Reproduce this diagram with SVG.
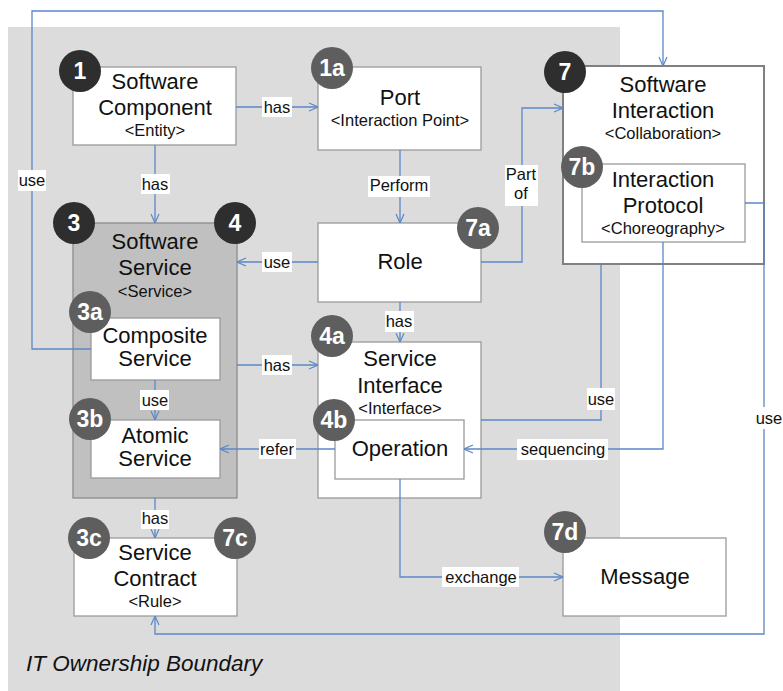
<svg xmlns="http://www.w3.org/2000/svg" width="783" height="691" viewBox="0 0 783 691">
<defs>
<style>
.bg{fill:#dcdcdc}
.box{fill:#fff;stroke:#9a9a9a;stroke-width:1.3}
.main{font-family:"Liberation Sans",Arial,sans-serif;font-size:22px;fill:#111;text-anchor:middle}
.sub{font-family:"Liberation Sans",Arial,sans-serif;font-size:16.5px;fill:#111;text-anchor:middle}
.bd{fill:#2e2e2e}
.bl{fill:#5e5e5e}
.bt{font-family:"Liberation Sans",Arial,sans-serif;font-size:23px;font-weight:bold;fill:#fff;text-anchor:middle}
.c{fill:none;stroke:#5b87c8;stroke-width:1.3}
.lb{fill:#fff}
.lt{font-family:"Liberation Sans",Arial,sans-serif;font-size:16.5px;fill:#111;text-anchor:middle}
</style>
<marker id="ah" viewBox="0 0 10 10" refX="10" refY="5" markerWidth="10" markerHeight="10" markerUnits="userSpaceOnUse" orient="auto">
<path d="M1,1 L10,5 L1,9" fill="none" stroke="#5b87c8" stroke-width="1.2"/>
</marker>
</defs>
<rect class="bg" x="8" y="27" width="612" height="664"/>
<text x="26" y="671" font-family="'Liberation Sans',Arial,sans-serif" font-size="22.5" font-style="italic" fill="#111">IT Ownership Boundary</text>

<g id="software-component">
<rect class="box" x="73" y="67" width="163" height="78"/>
<text class="main" x="155" y="89">Software</text>
<text class="main" x="155" y="115">Component</text>
<text class="sub" x="155" y="136">&lt;Entity&gt;</text>
<circle class="bd" cx="80" cy="71" r="21"/><text class="bt" x="80" y="79">1</text>
</g>
<g id="port">
<rect class="box" x="318" y="67" width="163" height="83"/>
<text class="main" x="400" y="105">Port</text>
<text class="sub" x="400" y="126">&lt;Interaction Point&gt;</text>
<circle class="bl" cx="332" cy="68" r="21"/><text class="bt" x="332" y="76">1a</text>
</g>
<g id="role">
<rect class="box" x="318" y="223" width="163" height="79"/>
<text class="main" x="400" y="269">Role</text>
<circle class="bl" cx="478" cy="228" r="21"/><text class="bt" x="478" y="236">7a</text>
</g>
<g id="software-interaction">
<rect x="563" y="66" width="201" height="198" fill="#fff" stroke="#808080" stroke-width="2"/>
<text class="main" x="663" y="92">Software</text>
<text class="main" x="663" y="118">Interaction</text>
<text class="sub" x="663" y="139">&lt;Collaboration&gt;</text>
<circle class="bd" cx="565" cy="72" r="21"/><text class="bt" x="565" y="80">7</text>
</g>
<g id="interaction-protocol">
<rect class="box" x="582" y="164" width="163" height="78"/>
<text class="main" x="663" y="187">Interaction</text>
<text class="main" x="663" y="213">Protocol</text>
<text class="sub" x="663" y="234">&lt;Choreography&gt;</text>
<circle class="bl" cx="582" cy="167" r="21"/><text class="bt" x="582" y="175">7b</text>
</g>
<g id="software-service">
<rect x="73" y="223" width="164" height="275" fill="#c0c0c0" stroke="#8c8c8c" stroke-width="1.3"/>
<text class="main" x="155" y="249">Software</text>
<text class="main" x="155" y="275">Service</text>
<text class="sub" x="155" y="297">&lt;Service&gt;</text>
<circle class="bd" cx="74" cy="223" r="21"/><text class="bt" x="74" y="231">3</text>
<circle class="bd" cx="235" cy="223" r="21"/><text class="bt" x="235" y="231">4</text>
</g>
<g id="composite-service">
<rect class="box" x="91" y="318" width="129" height="62"/>
<text class="main" x="155" y="343" font-size="20">Composite</text>
<text class="main" x="155" y="366" font-size="20">Service</text>
<circle class="bl" cx="90" cy="312" r="21"/><text class="bt" x="90" y="320">3a</text>
</g>
<g id="atomic-service">
<rect class="box" x="91" y="420" width="129" height="58"/>
<text class="main" x="155" y="443" font-size="20">Atomic</text>
<text class="main" x="155" y="466" font-size="20">Service</text>
<circle class="bl" cx="90" cy="419" r="21"/><text class="bt" x="90" y="427">3b</text>
</g>
<g id="service-interface">
<rect class="box" x="318" y="342" width="163" height="156"/>
<text class="main" x="400" y="366">Service</text>
<text class="main" x="400" y="393">Interface</text>
<text class="sub" x="400" y="414">&lt;Interface&gt;</text>
<circle class="bl" cx="332" cy="336" r="21"/><text class="bt" x="332" y="344">4a</text>
</g>
<g id="operation">
<rect class="box" x="335" y="420" width="129" height="59"/>
<text class="main" x="400" y="456">Operation</text>
<circle class="bl" cx="334" cy="420" r="21"/><text class="bt" x="334" y="428">4b</text>
</g>
<g id="service-contract">
<rect class="box" x="74" y="538" width="163" height="78"/>
<text class="main" x="155" y="560">Service</text>
<text class="main" x="155" y="586">Contract</text>
<text class="sub" x="155" y="607">&lt;Rule&gt;</text>
<circle class="bl" cx="89" cy="538" r="21"/><text class="bt" x="89" y="546">3c</text>
<circle class="bl" cx="235" cy="538" r="21"/><text class="bt" x="235" y="546">7c</text>
</g>
<g id="message">
<rect class="box" x="563" y="538" width="163" height="78"/>
<text class="main" x="645" y="584">Message</text>
<circle class="bl" cx="565" cy="532" r="21"/><text class="bt" x="565" y="540">7d</text>
</g>

<g id="connectors">
<path class="c" marker-end="url(#ah)" d="M236,107 H318"/>
<path class="c" marker-end="url(#ah)" d="M155,145 V223"/>
<path class="c" marker-end="url(#ah)" d="M400,150 V223"/>
<path class="c" marker-end="url(#ah)" d="M481,262 H522 V108 H563"/>
<path class="c" marker-end="url(#ah)" d="M318,262 H237"/>
<path class="c" marker-end="url(#ah)" d="M400,302 V342"/>
<path class="c" marker-end="url(#ah)" d="M237,365 H318"/>
<path class="c" marker-end="url(#ah)" d="M155,380 V420"/>
<path class="c" marker-end="url(#ah)" d="M335,449 H220"/>
<path class="c" marker-end="url(#ah)" d="M91,349 H32 V11 H663 V66"/>
<path class="c" d="M481,420 H601 V264"/>
<path class="c" marker-end="url(#ah)" d="M663,242 V449 H464"/>
<path class="c" marker-end="url(#ah)" d="M745,203 H764 V634 H155 V616"/>
<path class="c" marker-end="url(#ah)" d="M400,479 V577 H563"/>
<path class="c" marker-end="url(#ah)" d="M155,498 V538"/>

<rect class="lb" x="18" y="170" width="28" height="21"/><text class="lt" x="32" y="186">use</text>
<rect class="lb" x="262" y="97" width="30" height="20"/><text class="lt" x="277" y="113">has</text>
<rect class="lb" x="141" y="174" width="29" height="20"/><text class="lt" x="155" y="190">has</text>
<rect class="lb" x="368" y="176" width="62" height="21"/><text class="lt" x="399" y="191">Perform</text>
<rect class="lb" x="505" y="165" width="33" height="41"/><text class="lt" x="521" y="180">Part</text><text class="lt" x="521" y="199">of</text>
<rect class="lb" x="262" y="252" width="30" height="20"/><text class="lt" x="277" y="268">use</text>
<rect class="lb" x="262" y="355" width="30" height="20"/><text class="lt" x="277" y="371">has</text>
<rect class="lb" x="140" y="390" width="29" height="20"/><text class="lt" x="155" y="406">use</text>
<rect class="lb" x="385" y="311" width="29" height="21"/><text class="lt" x="399" y="327">has</text>
<rect class="lb" x="259" y="439" width="37" height="20"/><text class="lt" x="277" y="455">refer</text>
<rect class="lb" x="587" y="388" width="28" height="22"/><text class="lt" x="601" y="405">use</text>
<rect class="lb" x="517" y="439" width="91" height="21"/><text class="lt" x="563" y="455">sequencing</text>
<rect class="lb" x="755" y="407" width="28" height="22"/><text class="lt" x="769" y="424">use</text>
<rect class="lb" x="141" y="510" width="28" height="19"/><text class="lt" x="155" y="524" font-size="15">has</text>
<rect class="lb" x="442" y="567" width="77" height="20"/><text class="lt" x="481" y="583">exchange</text>
</g>
</svg>
